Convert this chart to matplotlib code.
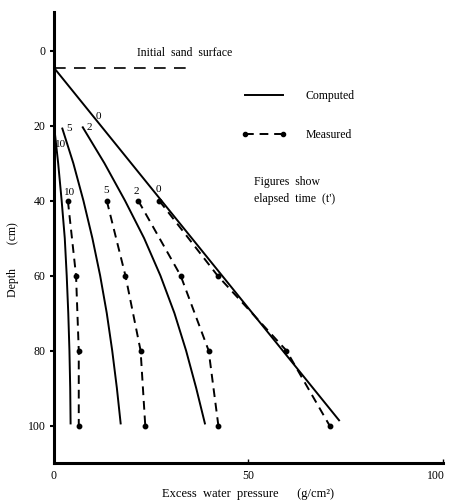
import matplotlib
matplotlib.use("Agg")
import matplotlib.pyplot as plt
from matplotlib.transforms import ScaledTranslation

plt.rcParams["font.family"] = ["Liberation Serif", "DejaVu Serif"]

# ---- data (pressure g/cm2 vs depth cm) ----
sand_depth = 4.5
sand_x = [0, 35]

# computed curves
comp_0_x = [0, 73.5]
comp_0_d = [4.5, 98.8]
comp_2_x = [7.3, 13.0, 18.3, 23.2, 27.4, 31.0, 34.0, 36.6, 38.9]
comp_2_d = [20.2, 30, 40, 50, 60, 70, 80, 90, 99.7]
comp_5_x = [2.1, 5.0, 7.6, 9.9, 11.9, 13.6, 15.0, 16.2, 17.2]
comp_5_d = [20.5, 30, 40, 50, 60, 70, 80, 90, 99.7]
comp_10_x = [0.1, 1.1, 2.0, 2.8, 3.3, 3.7, 4.0, 4.2, 4.3]
comp_10_d = [20.5, 30, 40, 50, 60, 70, 80, 90, 99.7]

# measured points
meas_d = [40, 60, 80, 100]
meas_0 = [27.1, 42.1, 59.8, 70.9]
meas_2 = [21.7, 32.6, 39.8, 42.3]
meas_5 = [13.6, 18.4, 22.3, 23.5]
meas_10 = [3.6, 5.7, 6.4, 6.4]

comp_labels = [("0", 11.4, 17.5), ("2", 9.0, 20.6), ("5", 4.0, 20.8), ("10", 1.7, 25.0)]
meas_labels = [("0", 26.9, 37.0), ("2", 21.2, 37.6), ("5", 13.3, 37.3), ("10", 4.0, 37.8)]

fig = plt.figure(figsize=(4.49, 5.03), dpi=100)
ax = fig.add_axes([0.120, 0.0795, 0.866, 0.897])

# initial sand surface
ax.plot(sand_x, [sand_depth, sand_depth], color="black", lw=1.2, dashes=(7, 5))
ax.text(21.5, 0.5, "Initial  sand  surface", fontsize=8.5, va="center", ha="left")

# computed
for xs, ds in [(comp_0_x, comp_0_d), (comp_2_x, comp_2_d),
               (comp_5_x, comp_5_d), (comp_10_x, comp_10_d)]:
    ax.plot(xs, ds, color="black", lw=1.4, solid_capstyle="butt",
            solid_joinstyle="round")

# measured
for xs in [meas_0, meas_2, meas_5, meas_10]:
    ax.plot(xs, meas_d, color="black", lw=1.4, dashes=(4.5, 3),
            marker="o", ms=3.2)

for s, x, d in comp_labels + meas_labels:
    ax.text(x, d, s, fontsize=8, ha="center", va="center")

# legend
h1, = ax.plot([], [], color="black", lw=1.4)
h2, = ax.plot([], [], color="black", lw=1.4, dashes=(4.5, 3), marker="o", ms=3)
ax.legend([h1, h2], ["Computed", "Measured"], loc="upper left",
          bbox_to_anchor=(0.455, 0.85), frameon=False, fontsize=8.5,
          handlelength=3.8, handletextpad=1.6, labelspacing=2.3, numpoints=2)

ax.text(51.5, 33.5, "Figures  show\nelapsed  time  (t')", fontsize=8.5,
        ha="left", va="top", linespacing=1.5)

# axes
ax.set_xlim(0, 100)
ax.set_ylim(110, -10.4)
for side in ["top", "right"]:
    ax.spines[side].set_visible(False)
for side in ["left", "bottom"]:
    ax.spines[side].set_linewidth(2.2)
ax.set_xticks([0, 50, 100])
ax.set_yticks([0, 20, 40, 60, 80, 100])
ax.tick_params(axis="x", direction="in", length=3, width=1, labelsize=8.5, pad=5)
ax.tick_params(axis="y", direction="out", length=3, width=1.5, labelsize=8.5, pad=3)
# keep the "100" label inside the figure
last = ax.get_xticklabels()[-1]
last.set_transform(last.get_transform() + ScaledTranslation(-5 / 72, 0, fig.dpi_scale_trans))

ax.set_xlabel("Excess  water  pressure      (g/cm\u00b2)", fontsize=9, labelpad=4)
ax.set_ylabel("Depth        (cm)", fontsize=8.5)
ax.yaxis.set_label_coords(-0.09, 0.45)

fig.savefig("out.png", dpi=100)
